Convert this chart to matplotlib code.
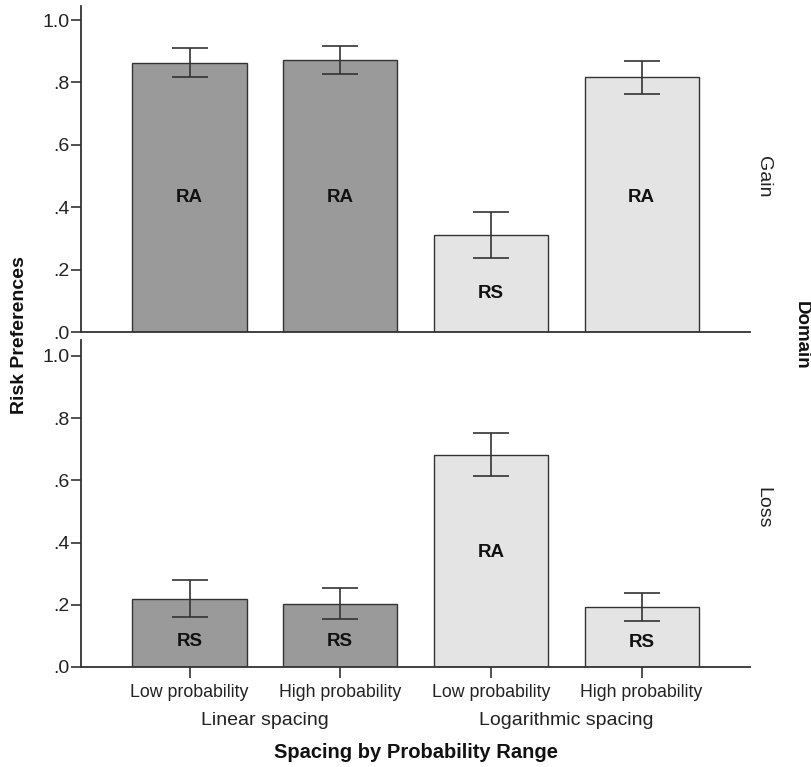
import matplotlib.pyplot as plt
import numpy as np

plt.rcParams['font.family'] = ['Liberation Sans', 'DejaVu Sans']

# data
categories = ['Low probability', 'High probability', 'Low probability', 'High probability']
groups = ['Linear spacing', 'Logarithmic spacing']
domains = ['Gain', 'Loss']

gain_means = [0.864, 0.873, 0.311, 0.816]
gain_err = [0.045, 0.045, 0.073, 0.052]
gain_labels = ['RA', 'RA', 'RS', 'RA']
gain_label_y = [0.43, 0.43, 0.125, 0.43]

loss_means = [0.219, 0.203, 0.682, 0.193]
loss_err = [0.059, 0.050, 0.069, 0.046]
loss_labels = ['RS', 'RS', 'RA', 'RS']
loss_label_y = [0.083, 0.083, 0.367, 0.078]

bar_colors = ['#9a9a9a', '#9a9a9a', '#e4e4e4', '#e4e4e4']
yticks = [0.0, 0.2, 0.4, 0.6, 0.8, 1.0]
ytick_labels = ['.0', '.2', '.4', '.6', '.8', '1.0']

fig = plt.figure(figsize=(8.12, 7.67), dpi=100)
ax_top = fig.add_axes([0.0998, 0.5671, 0.8239, 0.4250])
ax_bot = fig.add_axes([0.0998, 0.1304, 0.8239, 0.4263])

x = np.arange(len(categories))
spine_col = '#333333'

panels = [(ax_top, gain_means, gain_err, gain_labels, gain_label_y, 1.045),
          (ax_bot, loss_means, loss_err, loss_labels, loss_label_y, 1.051)]

for ax, means, err, labels, label_y, ytop in panels:
    ax.bar(x, means, width=0.757, color=bar_colors, edgecolor=spine_col, linewidth=1.0, zorder=2)
    ax.errorbar(x, means, yerr=err, fmt='none', ecolor=spine_col, elinewidth=1.2,
                capsize=13, capthick=1.2, zorder=3)
    for xi, lab, ly in zip(x, labels, label_y):
        ax.text(xi, ly, lab, ha='center', va='center', fontsize=13.5, fontweight='bold', color='#111111')
    ax.set_xlim(-0.72, 3.72)
    ax.set_ylim(0, ytop)
    ax.set_yticks(yticks)
    ax.set_yticklabels(ytick_labels, fontsize=14, color='#222222')
    for s in ['top', 'right']:
        ax.spines[s].set_visible(False)
    for s in ['left', 'bottom']:
        ax.spines[s].set_color(spine_col)
        ax.spines[s].set_linewidth(1.3)
    ax.tick_params(axis='y', direction='out', length=7, width=1.2, color=spine_col, pad=1)

ax_top.set_xticks([])
ax_bot.set_xticks(x)
ax_bot.set_xticklabels(categories, fontsize=12.8, color='#222222')
ax_bot.tick_params(axis='x', direction='out', length=8, width=1.2, color=spine_col, pad=4)

# group labels under the ticks
for gi, g in enumerate(groups):
    ax_bot.text(gi * 2 + 0.5, -0.165, g, ha='center', va='center', fontsize=14,
                color='#222222', transform=ax_bot.get_xaxis_transform())

fig.text(0.512, 0.019, 'Spacing by Probability Range', ha='center', va='center',
         fontsize=14.5, fontweight='bold', color='#111111')
fig.text(0.024, 0.563, 'Risk Preferences', ha='center', va='center', rotation=90,
         fontsize=14, fontweight='bold', color='#111111')

# facet labels on the right
fig.text(0.94, 0.77, domains[0], ha='center', va='center', rotation=270, fontsize=14, color='#222222')
fig.text(0.94, 0.338, domains[1], ha='center', va='center', rotation=270, fontsize=14, color='#222222')
fig.text(0.987, 0.563, 'Domain', ha='center', va='center', rotation=270, fontsize=13.5,
         fontweight='bold', color='#111111')

fig.savefig('out.png', dpi=100)
